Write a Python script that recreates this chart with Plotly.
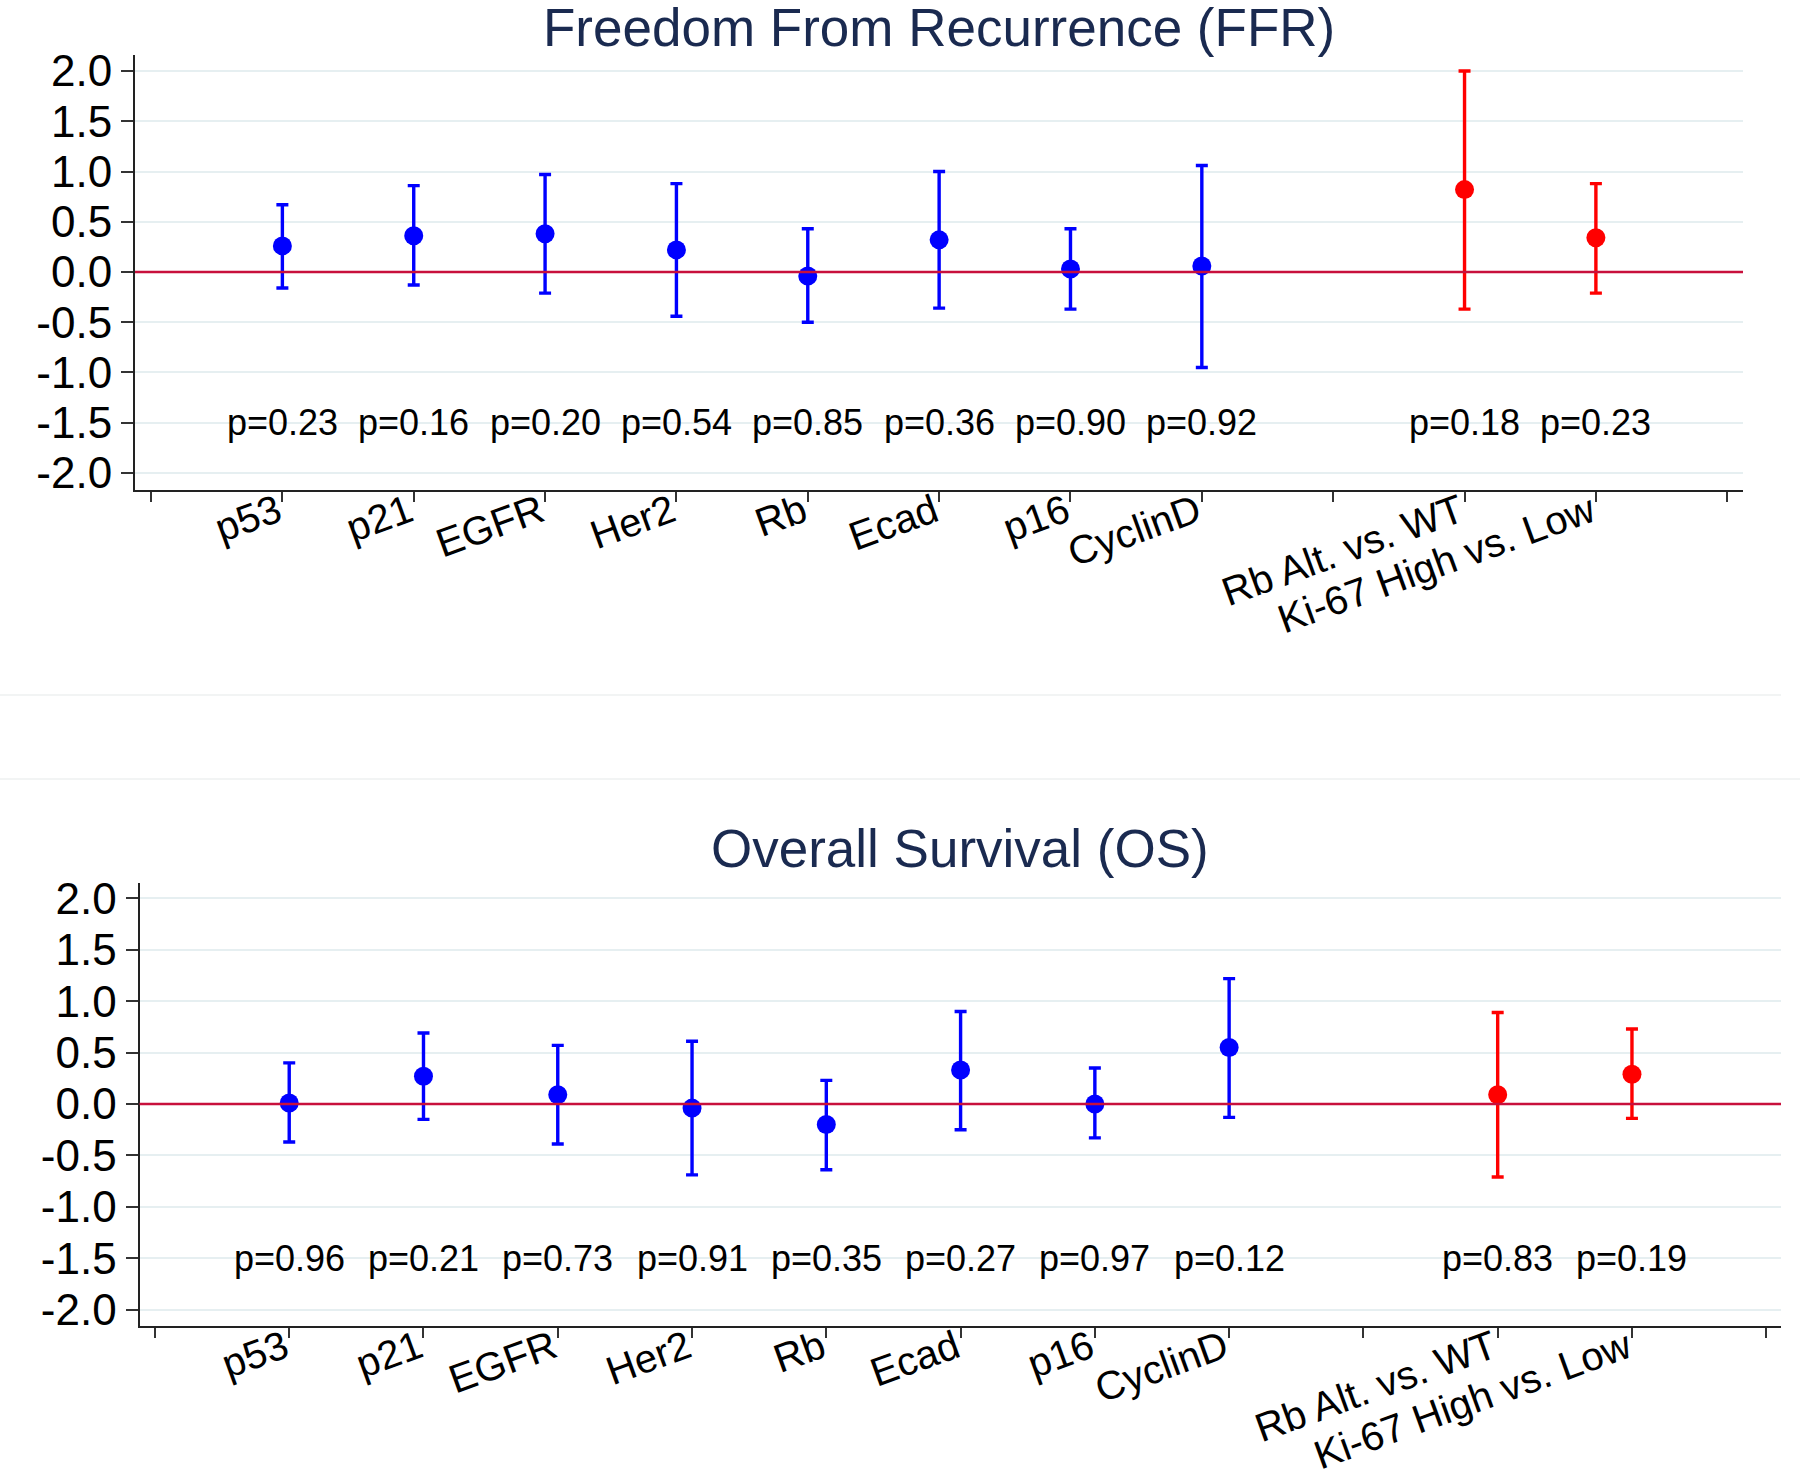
import plotly.graph_objects as go

# ---------------- data ----------------
categories = ["p53", "p21", "EGFR", "Her2", "Rb", "Ecad", "p16", "CyclinD",
              "Rb Alt. vs. WT", "Ki-67 High vs. Low"]
positions = [1, 2, 3, 4, 5, 6, 7, 8, 10, 11]
is_group2 = [False] * 8 + [True, True]

ffr_est = [0.26, 0.36, 0.38, 0.22, -0.04, 0.32, 0.03, 0.06, 0.82, 0.34]
ffr_lo = [-0.16, -0.13, -0.21, -0.44, -0.50, -0.36, -0.37, -0.95, -0.37, -0.21]
ffr_hi = [0.67, 0.86, 0.97, 0.88, 0.43, 1.00, 0.43, 1.06, 2.00, 0.88]
ffr_p = ["p=0.23", "p=0.16", "p=0.20", "p=0.54", "p=0.85", "p=0.36", "p=0.90",
         "p=0.92", "p=0.18", "p=0.23"]

os_est = [0.01, 0.27, 0.09, -0.04, -0.20, 0.33, 0.00, 0.55, 0.09, 0.29]
os_lo = [-0.37, -0.15, -0.39, -0.69, -0.64, -0.25, -0.33, -0.13, -0.71, -0.14]
os_hi = [0.40, 0.69, 0.57, 0.61, 0.23, 0.90, 0.35, 1.22, 0.89, 0.73]
os_p = ["p=0.96", "p=0.21", "p=0.73", "p=0.91", "p=0.35", "p=0.27", "p=0.97",
        "p=0.12", "p=0.83", "p=0.19"]

ytick_vals = [-2.0, -1.5, -1.0, -0.5, 0.0, 0.5, 1.0, 1.5, 2.0]
ytick_text = ["-2.0", "-1.5", "-1.0", "-0.5", "0.0", "0.5", "1.0", "1.5", "2.0"]
xtick_vals = list(range(0, 13))
xtick_text = ["", "p53", "p21", "EGFR", "Her2", "Rb", "Ecad", "p16", "CyclinD",
              "", "Rb Alt. vs. WT", "Ki-67 High vs. Low", ""]

titles = ["Freedom From Recurrence (FFR)", "Overall Survival (OS)"]

# ---------------- style ----------------
FONT = "Liberation Sans, Arial, sans-serif"
BLUE = "#0000ff"
RED = "#ff0000"
W, H = 1800, 1476

panels = [
    dict(est=ffr_est, lo=ffr_lo, hi=ffr_hi, p=ffr_p, xref="x", yref="y",
         xdom=[135 / W, 1743 / W], ydom=[1 - 490 / H, 1 - 55 / H],
         yr=[-2.17, 2.16], xr=[-0.122, 12.12], title_y=1 - 28 / H,
         title_x=(135 + 1743) / 2 / W),
    dict(est=os_est, lo=os_lo, hi=os_hi, p=os_p, xref="x2", yref="y2",
         xdom=[139.5 / W, 1781 / W], ydom=[1 - 1326 / H, 1 - 883 / H],
         yr=[-2.16, 2.15], xr=[-0.115, 12.11], title_y=1 - 848 / H,
         title_x=(139.5 + 1781) / 2 / W),
]

fig = go.Figure()
annotations = []
shapes = []

for i, pn in enumerate(panels):
    for grp, color in ((False, BLUE), (True, RED)):
        idx = [k for k in range(len(categories)) if is_group2[k] == grp]
        xs = [positions[k] for k in idx]
        ys = [pn["est"][k] for k in idx]
        up = [pn["hi"][k] - pn["est"][k] for k in idx]
        dn = [pn["est"][k] - pn["lo"][k] for k in idx]
        fig.add_trace(go.Scatter(
            x=xs, y=ys, mode="markers",
            marker=dict(color=color, size=19, line=dict(width=0)),
            error_y=dict(type="data", symmetric=False, array=up, arrayminus=dn,
                         color=color, thickness=3.4, width=6),
            xaxis=pn["xref"], yaxis=pn["yref"], showlegend=False,
            hoverinfo="skip"))
    # p-values
    for k in range(len(categories)):
        annotations.append(dict(
            x=positions[k], y=-1.5, xref=pn["xref"], yref=pn["yref"],
            text=pn["p"][k], showarrow=False, xanchor="center", yanchor="middle",
            font=dict(family=FONT, size=36, color="#000000")))
    # zero line
    shapes.append(dict(type="line", xref=f"{pn['xref']} domain", yref=pn["yref"],
                       x0=0, x1=1, y0=0, y1=0,
                       line=dict(color="#c8103c", width=2.5), layer="above"))
    # title
    annotations.append(dict(
        x=pn["title_x"], y=pn["title_y"], xref="paper", yref="paper",
        text=titles[i], showarrow=False, xanchor="center", yanchor="middle",
        font=dict(family=FONT, size=53, color="#1a2a50")))

# faint separator lines between the two graphs
for yy, x1 in ((695, 1781), (779, 1800)):
    shapes.append(dict(type="line", xref="paper", yref="paper",
                       x0=0, x1=x1 / W, y0=1 - yy / H, y1=1 - yy / H,
                       line=dict(color="#f2f4f4", width=2), layer="below"))

axis_common_x = dict(
    tickmode="array", tickvals=xtick_vals, ticktext=xtick_text, tickangle=-20,
    ticks="outside", ticklen=10, tickwidth=1.5, tickcolor="#333333",
    showline=True, linecolor="#222222", linewidth=2, showgrid=False,
    zeroline=False, tickfont=dict(family=FONT, size=40, color="#000000"),
    ticklabelstandoff=-29, ticklabelshift=-5,
    fixedrange=True, automargin=False)
axis_common_y = dict(
    tickmode="array", tickvals=ytick_vals, ticktext=ytick_text,
    ticks="outside", ticklen=12, tickwidth=1.5, tickcolor="#333333",
    showline=True, linecolor="#222222", linewidth=2, showgrid=True,
    gridcolor="#e6eff1", gridwidth=2, zeroline=False,
    tickfont=dict(family=FONT, size=44, color="#000000"), fixedrange=True,
    automargin=False)

fig.update_layout(
    width=W, height=H, paper_bgcolor="white", plot_bgcolor="white",
    margin=dict(l=0, r=0, t=0, b=0, autoexpand=False), showlegend=False,
    annotations=annotations, shapes=shapes,
    xaxis=dict(domain=panels[0]["xdom"], range=panels[0]["xr"], anchor="y",
               **axis_common_x),
    yaxis=dict(domain=panels[0]["ydom"], range=panels[0]["yr"], anchor="x",
               **axis_common_y),
    xaxis2=dict(domain=panels[1]["xdom"], range=panels[1]["xr"], anchor="y2",
                **axis_common_x),
    yaxis2=dict(domain=panels[1]["ydom"], range=panels[1]["yr"], anchor="x2",
                **axis_common_y),
)

fig.write_html("out.html",
               config={"displayModeBar": False},
               post_script="document.body.style.margin='0';"
                           "document.body.style.padding='0';")
